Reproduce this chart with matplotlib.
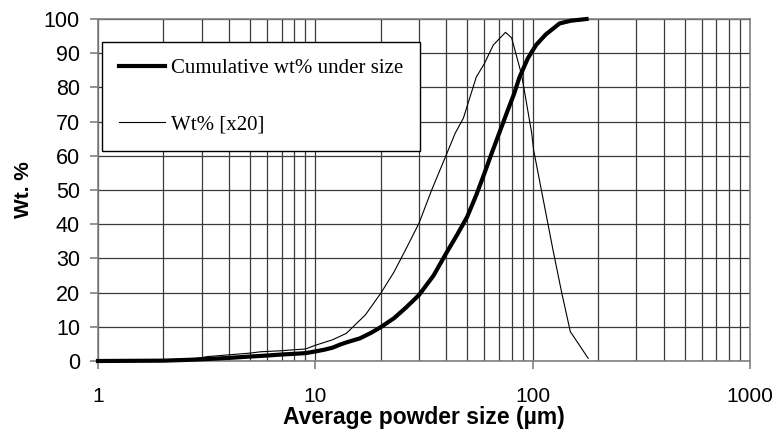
import matplotlib
matplotlib.use("Agg")
import matplotlib.pyplot as plt
from matplotlib.ticker import FixedLocator, LogLocator, NullFormatter

# ---- data ----
cum_size = [1, 2, 2.5, 3, 4, 5, 6, 7, 8, 9, 10, 11, 12, 13, 14, 16, 18, 20, 23, 26,
            30, 35, 40, 45, 50, 55, 60, 65, 71, 77, 82, 87, 95, 104, 115, 133, 150, 177]
cum_wt = [0, 0.1, 0.3, 0.5, 0.9, 1.3, 1.6, 1.9, 2.1, 2.3, 2.8, 3.3, 3.9, 4.8, 5.5, 6.6, 8.2, 9.9, 12.5, 15.5,
          19.3, 25, 31.5, 37, 42.2, 48.5, 54.9, 61, 67.5, 73.5, 78, 83, 88.5, 92.5, 95.5, 98.7, 99.5, 100]

wt_size = [1, 2, 2.8, 3.2, 4, 5, 5.6, 7, 8, 9, 10, 12, 13.9, 15.2, 17, 20, 23, 26, 30, 34.3,
           40, 44, 48, 55, 60, 65.9, 75, 80, 89, 99, 101, 112, 124, 136, 149, 180]
wt_x20 = [0, 0.3, 0.7, 1.3, 1.8, 2.3, 2.7, 3.0, 3.3, 3.5, 4.6, 6.2, 8.1, 10.5, 13.5, 19.8, 26, 32.5, 40.3, 50,
          60.2, 66.6, 71, 83, 87, 92.4, 96.1, 94.5, 83.6, 66.6, 61.7, 47, 32.5, 20, 8.6, 0.8]

x_ticks = [1, 10, 100, 1000]
x_tick_labels = ["1", "10", "100", "1000"]
y_ticks = list(range(0, 101, 10))

labels = ["Cumulative wt% under size", "Wt% [x20]"]

# ---- figure ----
W, H = 772, 430
fig = plt.figure(figsize=(W / 100, H / 100), dpi=100)
ax = fig.add_axes([98 / W, 1 - 361 / H, (750 - 98) / W, (361 - 19) / H])

ax.set_xscale("log")
ax.set_xlim(1, 1000)
ax.set_ylim(0, 100)

ax.xaxis.set_major_locator(FixedLocator(x_ticks))
ax.set_xticklabels(x_tick_labels)
ax.xaxis.set_minor_locator(LogLocator(base=10, subs=range(2, 10)))
ax.xaxis.set_minor_formatter(NullFormatter())
ax.set_yticks(y_ticks)

grid_c = "#3a3a3a"
ax.grid(True, which="major", axis="both", color=grid_c, lw=0.9)
ax.grid(True, which="minor", axis="x", color=grid_c, lw=0.9)
ax.set_axisbelow(True)

for s in ax.spines.values():
    s.set_color("#808080")
    s.set_linewidth(1.2)

ax.tick_params(axis="both", which="major", direction="out", length=6, width=1.2,
               color="#808080")
ax.tick_params(axis="x", which="major", pad=13, labelsize=15)
ax.tick_params(axis="y", which="major", pad=7, labelsize=15.5)
ax.tick_params(axis="x", which="minor", length=0)
for lab in ax.get_xticklabels() + ax.get_yticklabels():
    lab.set_fontfamily("Liberation Sans")

l1, = ax.plot(cum_size, cum_wt, color="black", lw=3.0, clip_on=False, zorder=3)
l2, = ax.plot(wt_size, wt_x20, color="black", lw=0.8, clip_on=False, zorder=3)

ax.set_xlabel("Average powder size (µm)", fontsize=16.5, fontweight="bold",
              family="Liberation Sans", labelpad=0)
ax.set_ylabel("Wt. %", fontsize=15, fontweight="bold", family="Liberation Sans", labelpad=8)

leg = ax.legend([l1, l2], labels, loc="upper left",
                bbox_to_anchor=(102 / W, 1 - 42 / H), bbox_transform=fig.transFigure,
                borderaxespad=0, frameon=True, fancybox=False, framealpha=1,
                edgecolor="black", borderpad=0.8, handlelength=2.2, handletextpad=0.3,
                labelspacing=1.75, prop=dict(family="Liberation Serif", size=15))
leg.get_frame().set_linewidth(1.0)
leg.set_zorder(5)

fig.savefig("out.png", dpi=100, facecolor="white")
